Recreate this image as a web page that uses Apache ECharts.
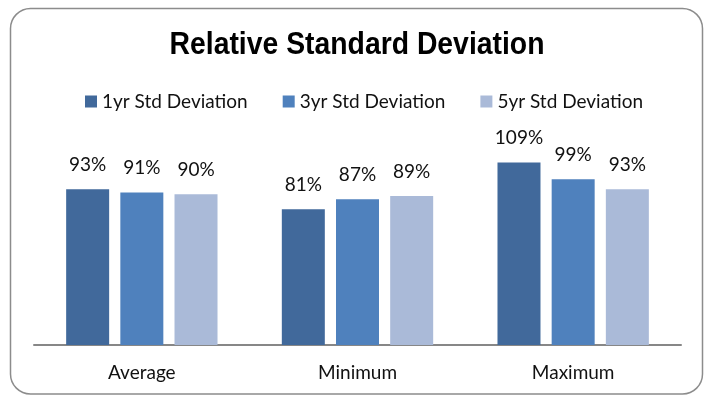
<!DOCTYPE html>
<html>
<head>
<meta charset="utf-8">
<style>
  html, body { margin: 0; padding: 0; background: #fff; }
  #chart { width: 704px; height: 396px; }
</style>
<script src="https://cdn.jsdelivr.net/npm/echarts@6/dist/echarts.min.js"></script>
</head>
<body>
<div id="chart"></div>
<script>
// Relative standard deviation (%) by statistic and look-back period
const categories = ['Average', 'Minimum', 'Maximum'];
const seriesNames = ['1yr Std Deviation', '3yr Std Deviation', '5yr Std Deviation'];
const oneYear = [93, 81, 109];
const threeYear = [91, 87, 99];
const fiveYear = [90, 89, 93];

const titleText = 'Relative Standard Deviation';
const colors = ['#41699B', '#4F81BD', '#AABAD8'];
const bodyFont = 'Lato, "Open Sans", sans-serif';

const chart = echarts.init(document.getElementById('chart'));

function barSeries(name, data, color) {
  return {
    name: name,
    type: 'bar',
    data: data,
    barWidth: 43,
    barGap: '26%',
    itemStyle: { color: color },
    label: {
      show: true,
      position: 'top',
      distance: 15,
      formatter: '{c}%',
      fontFamily: bodyFont,
      fontSize: 19,
      color: '#111'
    }
  };
}

chart.setOption({
  backgroundColor: '#fff',
  animation: false,
  color: colors,
  legend: {
    top: 87,
    left: 80,
    icon: 'rect',
    itemWidth: 12,
    itemHeight: 12,
    itemGap: 35,
    textStyle: { fontFamily: bodyFont, fontSize: 19, color: '#111' },
    data: seriesNames
  },
  grid: { left: 34, right: 23, top: 144, bottom: 51 },
  xAxis: {
    type: 'category',
    data: categories,
    axisLine: { lineStyle: { color: '#878787', width: 2 } },
    axisTick: { show: false },
    axisLabel: { fontFamily: bodyFont, fontSize: 19, color: '#111', margin: 18 }
  },
  yAxis: {
    type: 'value',
    min: 0,
    max: 120,
    show: false,
    splitLine: { show: false }
  },
  graphic: [
    {
      // condensed bold heading
      type: 'text',
      silent: true,
      x: 357,
      y: 29,
      scaleX: 0.9,
      style: {
        text: titleText,
        align: 'center',
        verticalAlign: 'top',
        fontFamily: '"Liberation Sans", Arial, sans-serif',
        fontWeight: 'bold',
        fontSize: 31.5,
        fill: '#000'
      }
    },
    {
      type: 'rect',
      silent: true,
      shape: { x: 10.5, y: 8.5, width: 692, height: 385.5, r: 20 },
      style: { fill: 'none', stroke: '#8C8C8C', lineWidth: 1.5 }
    }
  ],
  series: [
    barSeries(seriesNames[0], oneYear, colors[0]),
    barSeries(seriesNames[1], threeYear, colors[1]),
    barSeries(seriesNames[2], fiveYear, colors[2])
  ]
});
</script>
</body>
</html>
